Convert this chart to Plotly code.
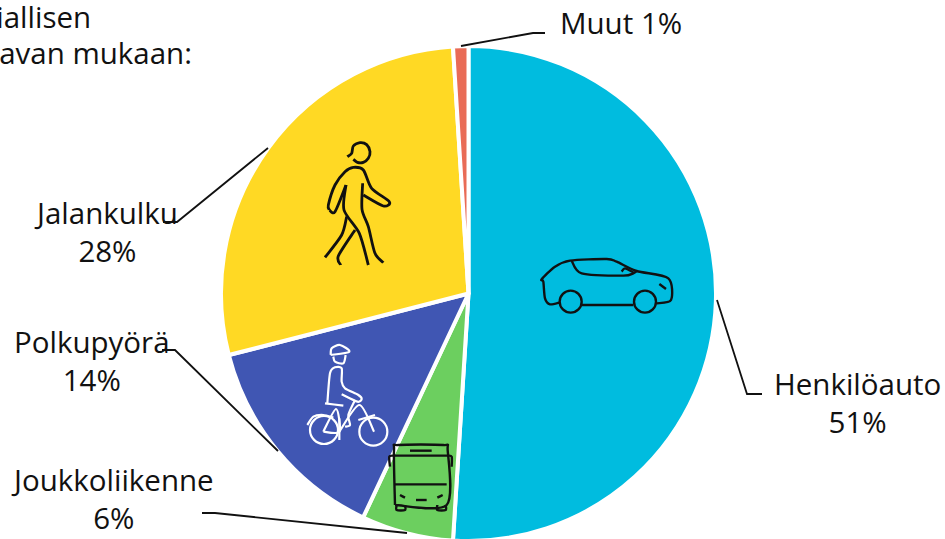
import plotly.graph_objects as go

W, H = 945, 545
categories = ["Henkilöauto", "Joukkoliikenne", "Polkupyörä", "Jalankulku", "Muut"]
values = [51, 6, 14, 28, 1]
colors = ["#00BCDF", "#6CCF5F", "#4056B3", "#FFD924", "#E96B56"]

FONT = "Open Sans"
FS = 29.5
INK = "#111111"


def px(x, y):
    return x / W, 1 - y / H


def poly(points, color, width, smooth=False):
    p = [px(*q) for q in points]
    d = f"M{p[0][0]:.5f},{p[0][1]:.5f}"
    for i in range(1, len(p)):
        if not smooth:
            d += f" L{p[i][0]:.5f},{p[i][1]:.5f}"
            continue
        p0, p1, p2, p3 = p[max(i - 2, 0)], p[i - 1], p[i], p[min(i + 1, len(p) - 1)]
        k = 0.14
        c1 = (p1[0] + (p2[0] - p0[0]) * k, p1[1] + (p2[1] - p0[1]) * k)
        c2 = (p2[0] - (p3[0] - p1[0]) * k, p2[1] - (p3[1] - p1[1]) * k)
        d += f" C{c1[0]:.5f},{c1[1]:.5f} {c2[0]:.5f},{c2[1]:.5f} {p2[0]:.5f},{p2[1]:.5f}"
    return dict(type="path", xref="paper", yref="paper", path=d,
                line=dict(color=color, width=width), layer="above")


def circle(cx, cy, r, color, width):
    x0, y0 = px(cx - r, cy - r)
    x1, y1 = px(cx + r, cy + r)
    return dict(type="circle", xref="paper", yref="paper", x0=x0, x1=x1, y0=y0, y1=y1,
                line=dict(color=color, width=width), layer="above")


def icon(ox, oy, lines, color, width=2.4, circles=()):
    out = [poly([(ox + a / 3, oy + b / 3) for a, b in ln], color, width, smooth=True) for ln in lines]
    out += [circle(ox + a / 3, oy + b / 3, r / 3, color, width) for a, b, r in circles]
    return out


walker = [
    [(142, 80), (155, 70), (160, 48), (180, 38), (200, 44), (210, 65), (205, 85), (190, 97), (172, 97), (160, 88)],
    [(138, 165), (132, 240), (178, 310), (205, 405)],
    [(188, 160), (186, 238), (205, 290), (225, 370), (250, 398)],
    [(88, 240), (85, 225), (105, 165), (135, 125), (160, 112), (190, 120), (215, 175), (268, 215), (250, 228), (190, 195)],
    [(138, 165), (105, 245), (88, 240)],
    [(75, 382), (125, 315), (140, 260)],
    [(165, 300), (115, 378), (122, 405)],
]
car = [
    [(90, 172), (60, 178), (45, 160), (40, 110), (35, 103), (75, 65), (120, 47), (230, 42), (260, 50), (320, 78), (415, 100), (423, 165), (380, 175)],
    [(155, 180), (310, 180)],
    [(125, 47), (155, 85), (280, 92), (310, 85), (320, 78)],
    [(275, 80), (285, 70), (310, 82)],
    [(388, 117), (408, 132)],
]
car_c = [(122, 170, 33), (345, 170, 33)]
cyclist = [
    [(92, 60), (95, 40), (120, 30), (148, 50), (92, 60)],
    [(100, 65), (105, 80), (130, 85), (137, 60)],
    [(82, 205), (90, 115), (105, 97), (125, 100), (125, 140), (135, 160), (175, 180), (185, 192), (172, 200), (125, 178)],
    [(75, 205), (130, 212)],
    [(165, 195), (145, 240), (150, 270), (135, 275)],
    [(70, 290), (108, 222), (118, 290), (70, 290)],
    [(118, 290), (178, 210), (222, 290)],
    [(22, 270), (40, 245), (70, 240), (100, 248)],
    [(175, 255), (225, 240)],
    [(118, 250), (118, 315)],
]
cyclist_c = [(72, 285, 42), (220, 290, 42)]
bus = [
    [(45, 210), (42, 45), (55, 30), (190, 30), (203, 45), (200, 210), (45, 210)],
    [(42, 62), (203, 62)],
    [(42, 148), (200, 148)],
    [(90, 47), (155, 47)],
    [(30, 95), (28, 65), (42, 62)],
    [(215, 95), (215, 65), (203, 62)],
    [(60, 180), (75, 188)],
    [(172, 188), (188, 180)],
    [(108, 195), (140, 195)],
    [(50, 210), (50, 225), (75, 225), (75, 210)],
    [(172, 210), (172, 225), (197, 225), (197, 210)],
]

leaders = [
    [(717, 300), (747, 394), (762, 394)],
    [(202, 513), (215, 513), (407, 533)],
    [(162, 350), (175, 350), (278, 451)],
    [(163, 222), (177, 222), (268, 148)],
    [(461, 46), (533, 33), (545, 33)],
]
labels = [
    ("Henkilöauto<br>51%", 857, 402.5),
    ("Joukkoliikenne<br>6%", 112, 498.5),
    ("Polkupyörä<br>14%", 91.5, 360.5),
    ("Jalankulku<br>28%", 106, 231.5),
    ("Muut 1%", 621, 22),
]
header = [("pääasiallisen", 93, 17), ("kulkutavan mukaan:", 194, 53)]

fig = go.Figure(go.Pie(
    labels=categories, values=values, sort=False, direction="clockwise", rotation=0,
    marker=dict(colors=colors, line=dict(color="white", width=4)),
    textinfo="none", hoverinfo="label+percent", showlegend=False,
    domain=dict(x=[221 / W, 716 / W], y=[1 - 541 / H, 1 - 46 / H]),
))

shapes = [poly(l, INK, 1.8) for l in leaders]
shapes += icon(300, 130, walker, "#111111", 2.8)
shapes += icon(530, 245, car, "#111111", 2.4, car_c)
shapes += icon(300, 335, cyclist, "white", 2.2, cyclist_c)
shapes += icon(380, 435, bus, "#111111", 2.4)

annotations = []
for text, x, y in labels:
    a, b = px(x, y)
    annotations.append(dict(text=text, x=a, y=b, xref="paper", yref="paper", showarrow=False,
                            xanchor="center", yanchor="middle", align="center",
                            font=dict(family=FONT, size=FS, color=INK)))
for text, x, y in header:
    a, b = px(x, y)
    annotations.append(dict(text=text, x=a, y=b, xref="paper", yref="paper", showarrow=False,
                            xanchor="right", yanchor="middle",
                            font=dict(family=FONT, size=FS, color=INK)))

fig.update_layout(width=W, height=H, margin=dict(l=0, r=0, t=0, b=0),
                  paper_bgcolor="white", shapes=shapes, annotations=annotations,
                  font=dict(family=FONT, color=INK))
fig.write_html("out.html", config=dict(displayModeBar=False),
               post_script="document.body.style.margin='0';document.documentElement.style.overflow='hidden';")
